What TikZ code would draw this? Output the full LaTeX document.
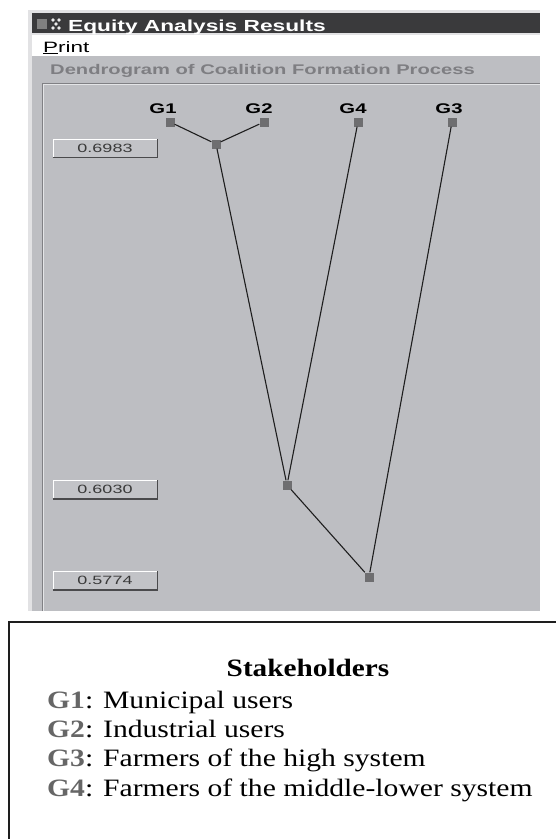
\documentclass[tikz,border=0pt]{standalone}
\usepackage{fontspec}
\usepackage{graphicx}
\setmainfont{Liberation Serif}
\newfontfamily\uifont{Liberation Sans}
\usetikzlibrary{positioning}

\definecolor{frame}{HTML}{E2E2E4}
\definecolor{panel}{HTML}{BDBEC2}
\definecolor{titlebar}{HTML}{3A3A3C}
\definecolor{edge}{HTML}{808084}
\definecolor{heading}{HTML}{7E7E82}
\definecolor{sqgray}{HTML}{6E6E70}
\definecolor{linkc}{HTML}{1E1E1E}
\definecolor{btngray}{HTML}{C2C3C7}
\definecolor{btnshade}{HTML}{4A4A4C}
\definecolor{btntext}{HTML}{3A3A3A}
\definecolor{boxline}{HTML}{1E1E1E}
\definecolor{keygray}{HTML}{666666}

% screen text is wider than the font draws it
\newcommand{\wide}[2][1.5]{\scalebox{#1}[1]{#2}}

\begin{document}
\begin{tikzpicture}[x=1pt, y=-1pt,
  leaf/.style = {rectangle, fill=sqgray, minimum size=9pt, inner sep=0},
  tag/.style = {inner sep=0, anchor=base, font=\uifont\bfseries\fontsize{14}{16}\selectfont},
  btn/.style = {rectangle, fill=btngray, draw=white, line width=1pt, minimum width=104pt,
    minimum height=18pt, inner sep=0, text=btntext, font=\uifont\fontsize{12}{14}\selectfont},
  link/.style = {draw=linkc, line width=1.1pt},
  entry/.style = {inner sep=0, anchor=base west, font=\fontsize{25}{29}\selectfont}]

\useasboundingbox (0,0) rectangle (556,839);
\fill[white] (0,0) rectangle (556,839);

% window
\fill[frame] (28,10) rectangle (540,611);
\fill[panel] (32,56) rectangle (540,611);
\fill[titlebar] (32,13) rectangle (540,33);
\fill[white] (32,35) rectangle (540,56);
\fill[gray] (37,19) rectangle (47,29);
\foreach \p in {(53,20),(59,20),(56,24),(53,28),(59,28)}
  \fill[white!85!gray] \p circle (1.8pt);
\draw[edge, line width=1pt] (42,611) -- (42,83) -- (540,83);
\draw[white!60!panel] (43.5,611) -- (43.5,84.5) -- (540,84.5);

\node[inner sep=0, anchor=base west, text=white, font=\uifont\bfseries\fontsize{16}{18}\selectfont]
  (title) at (68,31) {\wide[1.42]{Equity Analysis Results}};
\node[inner sep=0, anchor=base west, font=\uifont\fontsize{15}{18}\selectfont]
  (print) at (43,52) {\wide{\underline{P}rint}};
\node[inner sep=0, anchor=base west, text=heading, font=\uifont\bfseries\fontsize{14}{16}\selectfont]
  (heading) at (50,74) {\wide[1.44]{Dendrogram of Coalition Formation Process}};

% leaves and merges
\node[leaf] (g1) at (170,122) {};
\node[leaf] (g2) at (264,122) {};
\node[leaf] (g4) at (358,122) {};
\node[leaf] (g3) at (452,122) {};
\node[leaf] (j12) at (216,144) {};
\node[leaf] (j124) at (287,485) {};
\node[leaf] (jall) at (369,577) {};

\node[tag] (t1) at (163,113) {\wide[1.45]{G1}};
\node[tag] (t2) at (259,113) {\wide[1.45]{G2}};
\node[tag] (t4) at (353,113) {\wide[1.45]{G4}};
\node[tag] (t3) at (449,113) {\wide[1.45]{G3}};

\draw [link] (g1) to (j12);
\draw [link] (g2) to (j12);
\draw [link] (j12) to (j124);
\draw [link] (g4) to (j124);
\draw [link] (j124) to (jall);
\draw [link] (g3) to (jall);

% level values
\node[btn] (v1) at (105,148) {\wide{0.6983}};
\node[btn] (v2) at (105,489.5) {\wide{0.6030}};
\node[btn] (v3) at (105,580.5) {\wide{0.5774}};
\foreach \b in {v1,v2,v3}
  \draw[btnshade, line width=1.5pt] (\b.south west) -- (\b.south east) -- (\b.north east);

% legend
\draw[boxline, line width=2.5pt] (9,622) rectangle (580,860);
\node[entry, anchor=base, font=\bfseries\fontsize{25}{29}\selectfont]
  (head) at (308,676) {\wide[1.17]{Stakeholders}};
\node[entry] (l1) at (47,708) {\wide[1.185]{\textcolor{keygray}{\textbf{G1}}: Municipal users}};
\node[entry] (l2) at (47,737) {\wide[1.185]{\textcolor{keygray}{\textbf{G2}}: Industrial users}};
\node[entry] (l3) at (47,766) {\wide[1.185]{\textcolor{keygray}{\textbf{G3}}: Farmers of the high system}};
\node[entry] (l4) at (47,796) {\wide[1.185]{\textcolor{keygray}{\textbf{G4}}: Farmers of the middle-lower system}};

\end{tikzpicture}
\end{document}
